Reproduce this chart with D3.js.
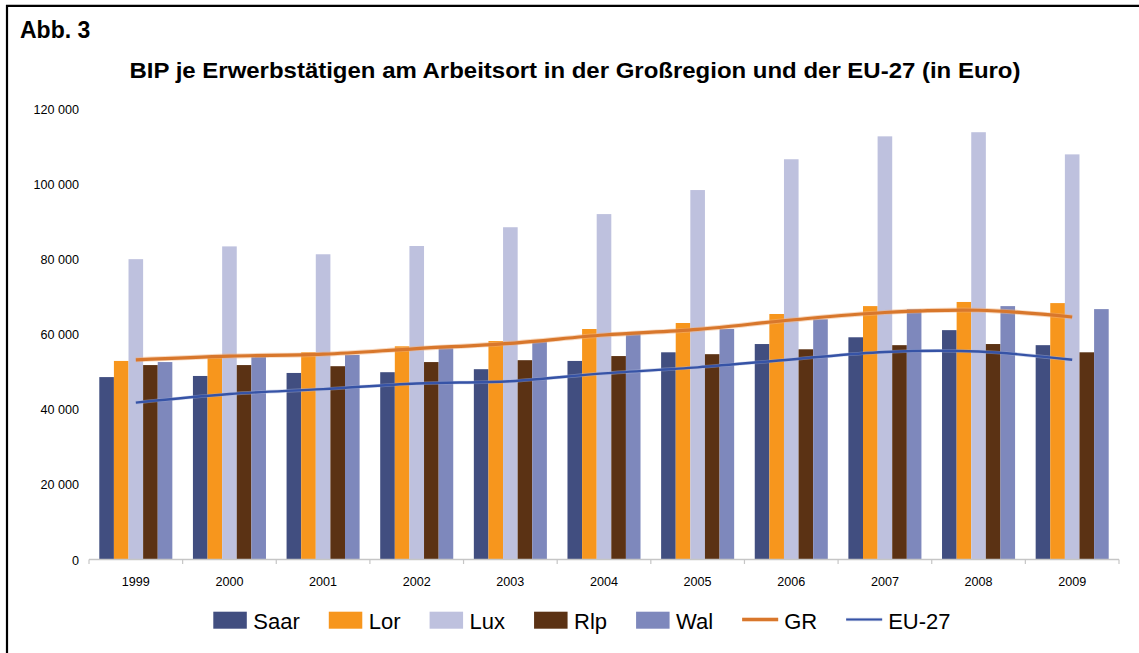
<!DOCTYPE html>
<html>
<head>
<meta charset="utf-8">
<script src="https://cdn.jsdelivr.net/npm/d3@7"></script>
<style>
  html, body { margin: 0; padding: 0; background: #fff; }
  svg { display: block; font-family: "Liberation Sans", Arial, sans-serif; }
</style>
</head>
<body>
<svg id="chart" width="1139" height="653"></svg>
<script>
// Years on the category axis
const years = ["1999","2000","2001","2002","2003","2004","2005","2006","2007","2008","2009"];

// GDP per person employed at place of work (EUR)
const saar = [48700, 49000, 49800, 50000, 50800, 53000, 55300, 57500, 59300, 61200, 57200];
const lor  = [53000, 54100, 55300, 56900, 58300, 61500, 63100, 65500, 67600, 68700, 68400];
const lux  = [80100, 83500, 81400, 83600, 88600, 92100, 98500, 106700, 112800, 113900, 108000];
const rlp  = [51900, 51900, 51600, 52700, 53200, 54300, 54800, 56100, 57200, 57500, 55300];
const wal  = [52700, 54100, 54600, 56400, 58100, 60600, 61500, 64100, 66800, 67600, 66800];
const gr   = [53300, 54300, 54800, 56300, 57700, 59900, 61400, 63900, 65900, 66500, 64700];
const eu27 = [41900, 44200, 45500, 47000, 47600, 49700, 51300, 53400, 55400, 55500, 53300];

const yTicks = [0, 20000, 40000, 60000, 80000, 100000, 120000];

const barSeries = [
  { name: "Saar", values: saar, color: "#414E80" },
  { name: "Lor",  values: lor,  color: "#F7961D" },
  { name: "Lux",  values: lux,  color: "#BEC1DE" },
  { name: "Rlp",  values: rlp,  color: "#5B3214" },
  { name: "Wal",  values: wal,  color: "#7E88BC" }
];
const lineSeries = [
  { name: "GR",    values: gr,   color: "#D8772C", halo: "#F2B27E", width: 3.2, haloWidth: 5 },
  { name: "EU-27", values: eu27, color: "#3653A6", halo: "#A9B6DC", width: 2.4, haloWidth: 3.6 }
];

const svg = d3.select("#chart");

// frame (left and top edges)
svg.append("line").attr("x1", 7).attr("x2", 7).attr("y1", 5).attr("y2", 653)
  .attr("stroke", "#000").attr("stroke-width", 2.2);
svg.append("line").attr("x1", 6).attr("x2", 1139).attr("y1", 5.8).attr("y2", 5.8)
  .attr("stroke", "#000").attr("stroke-width", 2.2);

svg.append("text").attr("x", 20).attr("y", 37.5)
  .attr("font-size", 23).attr("font-weight", "bold").text("Abb. 3");

svg.append("text").attr("x", 129.5).attr("y", 77.5)
  .attr("font-size", 21.5).attr("font-weight", "bold")
  .attr("textLength", 891).attr("lengthAdjust", "spacingAndGlyphs")
  .text("BIP je Erwerbstätigen am Arbeitsort in der Großregion und der EU-27 (in Euro)");

// scales
const x0 = d3.scaleBand().domain(years).range([89, 1119]).padding(0);
const x1 = d3.scaleBand().domain(barSeries.map(s => s.name))
  .range([0, x0.bandwidth()]).paddingInner(0).paddingOuter(0.705);
const y = d3.scaleLinear().domain([0, 120000]).range([560, 109.3]);

// y axis labels (no axis line)
const fmt = v => d3.format(",")(v).replace(/,/g, " ");
const yAxis = d3.axisLeft(y).tickValues(yTicks).tickSize(0).tickPadding(0).tickFormat(fmt);
const gy = svg.append("g").attr("transform", "translate(79,0)").call(yAxis);
gy.select(".domain").remove();
gy.selectAll("text").attr("font-size", 12.6).attr("fill", "#000")
  .attr("font-family", "Liberation Sans, Arial, sans-serif");

// bars
const gBars = svg.append("g");
years.forEach((yr, i) => {
  barSeries.forEach(s => {
    gBars.append("rect")
      .attr("x", x0(yr) + x1(s.name))
      .attr("width", x1.bandwidth())
      .attr("y", y(s.values[i]))
      .attr("height", y(0) - y(s.values[i]))
      .attr("fill", s.color);
  });
});

// x axis with ticks at category boundaries
const boundaries = years.map(d => x0(d)).concat([x0.range()[1]]);
const gx = svg.append("g");
gx.append("line").attr("x1", x0.range()[0]).attr("x2", x0.range()[1])
  .attr("y1", 559.6).attr("y2", 559.6).attr("stroke", "#C6C6C6").attr("stroke-width", 1.5);
gx.selectAll("line.tick").data(boundaries).enter().append("line")
  .attr("x1", d => d).attr("x2", d => d).attr("y1", 559.6).attr("y2", 564)
  .attr("stroke", "#C6C6C6").attr("stroke-width", 1.2);
gx.selectAll("text").data(years).enter().append("text")
  .attr("x", d => x0(d) + x0.bandwidth() / 2).attr("y", 586)
  .attr("text-anchor", "middle").attr("font-size", 12.6).text(d => d);

// smoothed lines
const lineGen = d3.line()
  .x((d, i) => x0(years[i]) + x0.bandwidth() / 2)
  .y(d => y(d))
  .curve(d3.curveCatmullRom.alpha(0.5));
lineSeries.forEach(s => {
  svg.append("path").attr("d", lineGen(s.values)).attr("fill", "none")
    .attr("stroke", s.halo).attr("stroke-width", s.haloWidth).attr("stroke-opacity", 0.5);
  svg.append("path").attr("d", lineGen(s.values)).attr("fill", "none")
    .attr("stroke", s.color).attr("stroke-width", s.width);
});

// legend
const legend = svg.append("g");
let lx = 213.3;
const items = barSeries.map(s => ({ type: "bar", ...s })).concat(lineSeries.map(s => ({ type: "line", ...s })));
items.forEach(it => {
  if (it.type === "bar") {
    legend.append("rect").attr("x", lx).attr("y", 611.7).attr("width", 33.5).attr("height", 17)
      .attr("fill", it.color);
  } else {
    legend.append("line").attr("x1", lx).attr("x2", lx + 36).attr("y1", 619.5).attr("y2", 619.5)
      .attr("stroke", it.halo).attr("stroke-width", it.haloWidth).attr("stroke-opacity", 0.5);
    legend.append("line").attr("x1", lx).attr("x2", lx + 36).attr("y1", 619.5).attr("y2", 619.5)
      .attr("stroke", it.color).attr("stroke-width", it.width - 0.4);
  }
  const tx = lx + (it.type === "bar" ? 40 : 42);
  const t = legend.append("text").attr("x", tx).attr("y", 628.7)
    .attr("font-size", 22).attr("fill", "#000").text(it.name);
  lx = tx + t.node().getComputedTextLength() + 29;
});
</script>
</body>
</html>
